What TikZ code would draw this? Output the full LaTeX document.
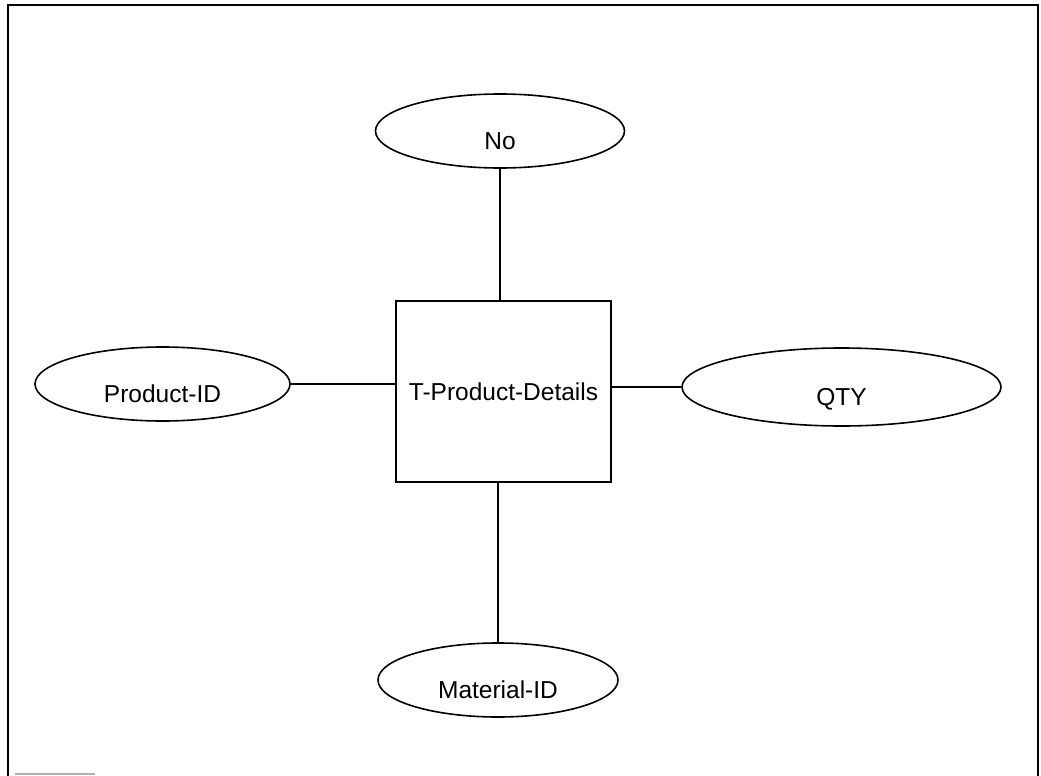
\documentclass[tikz,border=0pt]{standalone}
\usepackage{fontspec}
\setmainfont{Liberation Sans}
\usepackage{tikz}
\usetikzlibrary{shapes.geometric, positioning}

\tikzset{
    attr/.style={ellipse, draw, line width=1.6pt, inner sep=0pt,
        text height=36pt, text depth=0pt,
        font=\fontsize{24.5}{29}\selectfont},
    entity/.style={rectangle, draw, line width=1.6pt, inner sep=0pt,
        minimum width=215, minimum height=181,
        font=\fontsize{24.5}{29}\selectfont},
    link/.style={line width=1.6pt}
}

\begin{document}
\begin{tikzpicture}[x=1pt, y=-1pt]
    \useasboundingbox (0,0) rectangle (1041,776);

    % Frame
    \draw[line width=2.2pt] (8,776) -- (8,5) -- (1038,5) -- (1038,776);
    \draw[gray!60, line width=2pt] (15,774) -- (95,774);

    % Entity
    \node[entity] (box) at (503.5,391.5) {T-Product-Details};

    % Attributes
    \node[attr, minimum width=249, minimum height=74] (no) at (500,131) {No};
    \node[attr, minimum width=255, minimum height=74] (pid) at (162.5,384) {Product-ID};
    \node[attr, minimum width=319, minimum height=78] (qty) at (841.5,387) {QTY};
    \node[attr, minimum width=240, minimum height=74] (mat) at (498,680) {Material-ID};

    % Links
    \draw[link] (no.south) -- (no.south |- box.north);
    \draw[link] (mat.north) -- (mat.north |- box.south);
    \draw[link] (pid.east) -- (pid.east -| box.west);
    \draw[link] (qty.west) -- (qty.west -| box.east);
\end{tikzpicture}
\end{document}
